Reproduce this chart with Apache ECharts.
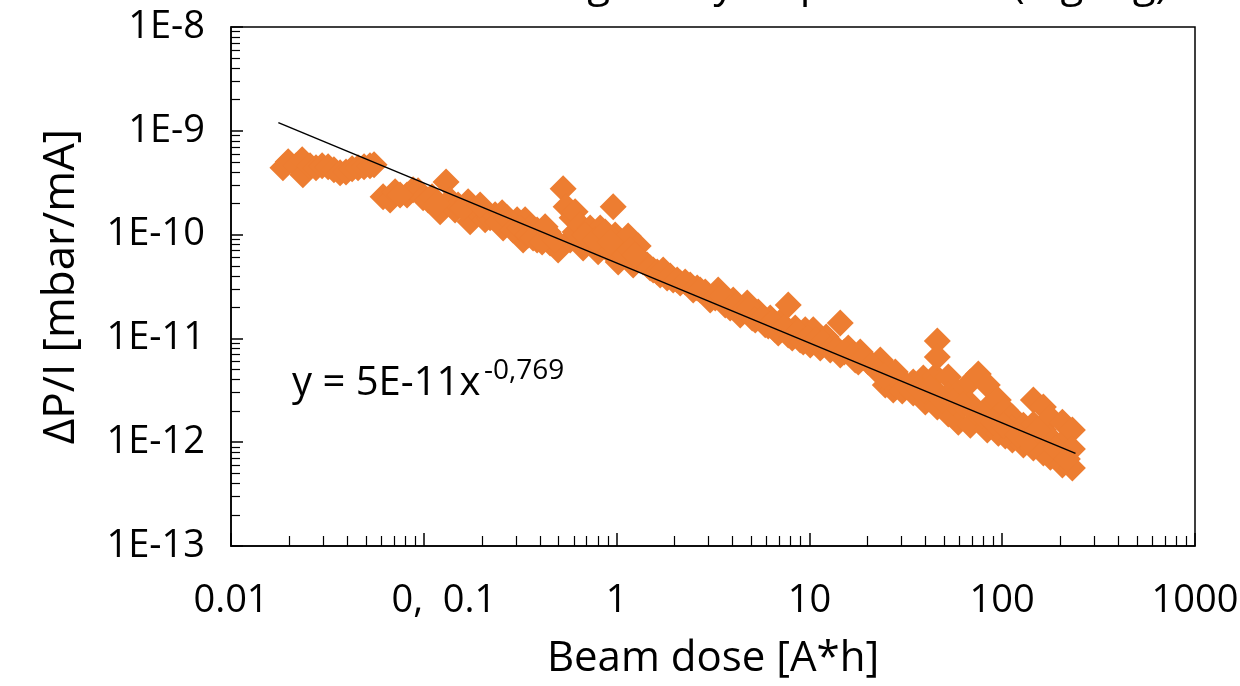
<!DOCTYPE html>
<html><head><meta charset="utf-8">
<script src="https://cdn.jsdelivr.net/npm/echarts@6/dist/echarts.min.js"></script>
<style>html,body{margin:0;padding:0;background:#fff}#c{width:1240px;height:686px}</style>
</head><body><div id="c"></div>
<script>
// ---- data ----
const doseX = [
0.0186,0.0198,0.0218,0.0234,0.0236,0.0257,0.0276,0.0297,0.0319,0.0342,0.0368,0.0395,0.0425,0.0456,0.0490,0.0526,0.0552,
0.0615,0.0669,0.0710,0.0819,0.0880,0.0934,0.0992,0.1053,0.1104,0.1215,0.1305,0.1369,0.1453,0.1506,0.1698,0.1739,0.1846,0.2030,0.2080,0.2208,0.2344,0.2548,0.2579,0.2803,0.3048,0.3275,0.3354,0.3561,0.3871,0.3871,0.4259,0.4522,
0.4415,0.4973,0.5281,0.5474,0.5742,0.5880,0.6095,0.6095,0.6471,0.6706,0.7292,0.7292,0.8022,0.8218,0.8415,0.9044,0.9598,0.9831,1.019,1.069,1.148,1.219,1.294,1.374,1.441,1.548,1.683,1.829,1.966,2.138,2.409,2.619,
2.882,3.058,3.365,3.660,4.026,4.377,4.760,5.052,5.427,5.901,6.265,6.650,7.062,7.768,7.768,8.445,8.967,9.517,10.10,10.47,11.38,12.23,13.30,14.46,14.46,15.91,17.30,18.36,20.20,21.96,23.32,25.66,27.90,
24.75,27.23,29.60,30.32,34.57,34.57,38.97,39.93,39.45,45.00,46.08,45.54,46.08,46.08,52.54,52.54,52.54,59.21,59.21,59.21,68.35,68.35,68.35,75.19,83.73,83.73,83.73,95.50,95.50,95.50,103.8,103.8,112.9,112.9,112.9,128.8,128.8,145.1,145.1,145.1,145.1,163.5,163.5,163.5,177.8,177.8,177.8,205.2,205.2,205.2,231.2,231.2,231.2,
0.0753,0.1172,0.1599,0.1959,0.2429,0.2705,0.2905,0.3160,0.3477,0.3691,0.4109,0.4259,0.4798,0.6868,0.7741,0.8723,0.9260,1.108,1.176,1.248,1.494,1.624,1.744,1.897,2.062,2.269,2.496,2.714,
3.248,3.530,3.884,4.223,4.592,4.933,5.236,5.692,6.116,6.492,6.895,7.405,8.147,8.753,9.292,9.865,10.85,11.80,12.83,13.78,15.17,16.69,17.93,19.26,21.19,22.77,24.46,
32.20,36.72,42.38,48.92,55.79,62.85,72.54,78.87,89.95,101.4,121.3,136.6,154.0,188.7,217.8
];
const ratioY = [
4.40e-10,5.02e-10,4.60e-10,5.25e-10,3.77e-10,4.60e-10,4.40e-10,4.60e-10,4.50e-10,4.21e-10,3.94e-10,4.02e-10,4.30e-10,4.40e-10,4.50e-10,4.60e-10,4.70e-10,
2.31e-10,2.16e-10,2.58e-10,2.41e-10,2.70e-10,2.64e-10,2.26e-10,2.16e-10,2.31e-10,1.66e-10,3.22e-10,2.16e-10,1.73e-10,1.93e-10,2.07e-10,1.33e-10,1.73e-10,1.66e-10,1.39e-10,1.45e-10,1.55e-10,1.62e-10,1.16e-10,1.33e-10,1.39e-10,8.89e-11,1.39e-10,1.16e-10,1.11e-10,8.89e-11,9.93e-11,8.32e-11,
1.06e-10,7.12e-11,2.76e-10,1.85e-10,8.89e-11,1.45e-10,1.06e-10,1.66e-10,1.24e-10,7.44e-11,1.16e-10,8.50e-11,6.82e-11,1.16e-10,9.29e-11,7.12e-11,1.85e-10,9.93e-11,5.45e-11,7.96e-11,9.71e-11,5.10e-11,7.78e-11,5.45e-11,5.10e-11,4.57e-11,4.09e-11,3.82e-11,3.66e-11,3.42e-11,3.27e-11,3.06e-11,
2.80e-11,2.35e-11,2.93e-11,2.10e-11,2.35e-11,1.68e-11,2.19e-11,1.57e-11,1.80e-11,1.35e-11,1.57e-11,1.21e-11,1.44e-11,2.10e-11,1.08e-11,1.26e-11,9.65e-12,1.21e-11,8.64e-12,1.21e-11,8.08e-12,1.03e-11,8.64e-12,1.41e-11,6.92e-12,8.08e-12,6.19e-12,7.40e-12,5.92e-12,5.18e-12,6.19e-12,4.96e-12,4.74e-12,
3.55e-12,3.18e-12,3.80e-12,3.11e-12,3.80e-12,2.98e-12,4.15e-12,2.44e-12,3.18e-12,4.34e-12,2.18e-12,3.04e-12,9.44e-12,6.62e-12,4.24e-12,1.87e-12,2.85e-12,2.98e-12,1.56e-12,2.18e-12,3.80e-12,1.46e-12,2.33e-12,4.54e-12,3.55e-12,1.31e-12,2.13e-12,2.55e-12,1.22e-12,1.79e-12,2.04e-12,1.15e-12,1.75e-12,1.05e-12,1.37e-12,1.46e-12,9.38e-13,2.55e-12,8.77e-13,1.49e-12,1.15e-12,2.18e-12,7.85e-13,1.31e-12,1.71e-12,7.18e-13,1.10e-12,1.56e-12,6.02e-13,9.80e-13,1.31e-12,5.63e-13,8.58e-13,
2.41e-10,1.98e-10,1.81e-10,1.93e-10,1.33e-10,1.45e-10,1.11e-10,1.16e-10,9.93e-11,9.29e-11,8.50e-11,1.19e-10,8.89e-11,9.93e-11,8.89e-11,1.06e-10,8.50e-11,6.37e-11,7.12e-11,6.37e-11,4.77e-11,4.37e-11,4.57e-11,4.00e-11,3.66e-11,3.50e-11,2.93e-11,2.93e-11,
2.45e-11,2.56e-11,1.96e-11,2.10e-11,1.88e-11,1.96e-11,1.50e-11,1.57e-11,1.32e-11,1.44e-11,1.13e-11,1.26e-11,1.01e-11,1.15e-11,9.24e-12,1.01e-11,9.65e-12,9.24e-12,7.73e-12,7.73e-12,7.40e-12,6.77e-12,5.92e-12,6.47e-12,5.54e-12,4.74e-12,4.34e-12,
3.48e-12,3.33e-12,3.33e-12,2.55e-12,2.44e-12,2.28e-12,1.95e-12,1.83e-12,1.56e-12,1.46e-12,1.17e-12,1.05e-12,1.31e-12,8.63e-13,6.90e-13
];
const fitX = [0.0176, 240];
const fitY = [1.2e-9, 7.8e-13];
const xTickValues = [0.01, 0.1, 1, 10, 100, 1000];
const xTickLabels = ['0.01', '0,  0.1', '1', '10', '100', '1000'];
const yTickValues = [1e-13, 1e-12, 1e-11, 1e-10, 1e-9, 1e-8];
const yTickLabels = ['1E-13', '1E-12', '1E-11', '1E-10', '1E-9', '1E-8'];
const minorSteps = [2, 3, 4, 5, 6, 7, 8, 9];
const xTitle = 'Beam dose [A*h]';
const yTitle = 'ΔP/I [mbar/mA]';
const fitText = 'y = 5E-11x';
const fitExponent = '-0,769';
const chartTitle = 'Strong decay as power law (log-log)';

// ---- helpers ----
const FONT = '"Open Sans", "Noto Sans", sans-serif';
function minorLogs(majors) {
  const out = [];
  for (let i = 0; i < majors.length - 1; i++)
    for (const m of minorSteps) out.push(Math.log10(majors[i] * m));
  return out;
}
function labelOf(values, labels, v) {
  const i = values.findIndex(t => Math.abs(Math.log10(t) - Math.log10(v)) < 1e-6);
  return i < 0 ? '' : labels[i];
}
const scatterData = doseX.map((x, i) => [x, ratioY[i]]);
const fitData = fitX.map((x, i) => [x, fitY[i]]);
const lx = xTickValues.map(v => Math.log10(v));
const ly = yTickValues.map(v => Math.log10(v));

const chart = echarts.init(document.getElementById('c'), null, {renderer: 'canvas'});
chart.setOption({
  animation: false,
  backgroundColor: '#fff',
  grid: {left: 231, right: 45, top: 27, bottom: 140, show: true, borderColor: '#000', borderWidth: 1.5, outerBoundsMode: 'none', containLabel: false},
  xAxis: [
    {
      type: 'log', logBase: 10, min: xTickValues[0], max: xTickValues[xTickValues.length - 1], position: 'bottom',
      axisLine: {show: true, onZero: false, lineStyle: {color: '#000', width: 1.5}},
      axisTick: {show: true, inside: true, length: 13, lineStyle: {color: '#000', width: 1.5}},
      minorTick: {show: false}, splitLine: {show: false},
      axisLabel: {
        margin: 36, color: '#000', fontSize: 38, fontFamily: FONT,
        formatter: v => {
          const s = labelOf(xTickValues, xTickLabels, v);
          return s.indexOf(',') >= 0 ? '{s|' + s + '}' : s;
        },
        rich: {s: {fontSize: 38, fontFamily: FONT, color: '#000', padding: [0, 0, 0, 40]}}
      },
      name: xTitle, nameLocation: 'middle', nameGap: 92,
      nameTextStyle: {fontSize: 42, fontFamily: FONT, color: '#000'}
    },
    {
      type: 'value', min: lx[0], max: lx[lx.length - 1], position: 'bottom',
      axisLine: {show: false, onZero: false}, axisLabel: {show: false}, splitLine: {show: false},
      axisTick: {show: true, inside: true, length: 10, customValues: minorLogs(xTickValues), lineStyle: {color: '#000', width: 1.2}}
    }
  ],
  yAxis: [
    {
      type: 'log', logBase: 10, min: yTickValues[0], max: yTickValues[yTickValues.length - 1], position: 'left',
      axisLine: {show: true, onZero: false, lineStyle: {color: '#000', width: 1.5}},
      axisTick: {show: true, inside: true, length: 12, lineStyle: {color: '#000', width: 1.5}},
      minorTick: {show: false}, splitLine: {show: false},
      axisLabel: {margin: 26, color: '#000', fontSize: 38, fontFamily: FONT,
        formatter: v => labelOf(yTickValues, yTickLabels, v)},
      name: yTitle, nameLocation: 'middle', nameGap: 148, nameRotate: 90,
      nameTextStyle: {fontSize: 44, fontFamily: FONT, color: '#000'}
    },
    {
      type: 'value', min: ly[0], max: ly[ly.length - 1], position: 'left',
      axisLine: {show: false, onZero: false}, axisLabel: {show: false}, splitLine: {show: false},
      axisTick: {show: true, inside: true, length: 9, customValues: minorLogs(yTickValues), lineStyle: {color: '#000', width: 1.2}}
    }
  ],
  series: [
    {
      type: 'scatter', xAxisIndex: 0, yAxisIndex: 0, data: scatterData,
      symbol: 'diamond', symbolSize: 27, itemStyle: {color: '#ED7D31', opacity: 1}, z: 2
    },
    {
      type: 'line', xAxisIndex: 0, yAxisIndex: 0, data: fitData, symbol: 'none',
      lineStyle: {color: '#000', width: 1.5}, z: 3
    }
  ],
  graphic: [
    {type: 'text', left: 292, top: 364, style: {text: fitText, font: '40px ' + FONT, fill: '#000'}},
    {type: 'text', left: 484, top: 357, style: {text: fitExponent, font: '28px ' + FONT, fill: '#000'}},
    {type: 'text', x: 1168, y: -15, style: {text: chartTitle, font: '42px ' + FONT, fill: '#000', align: 'right', verticalAlign: 'middle'}}
  ]
});
</script>
</body></html>
